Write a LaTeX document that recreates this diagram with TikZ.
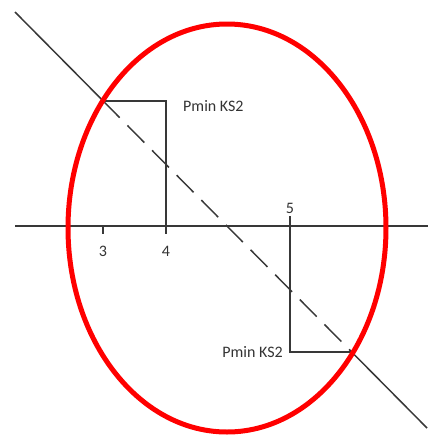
\documentclass[tikz,border=0pt]{standalone}
\usepackage{fontspec}
\setmainfont{Carlito}
\begin{document}
\begin{tikzpicture}[x=1pt,y=-1pt,
  ink/.style={draw=black!78,line width=1.5pt},
  dashpart/.style={ink,dash pattern=on 24pt off 11pt},
  lbl/.style={text=black!80,font=\fontsize{16}{18}\selectfont,inner sep=0pt},
  ring/.style={draw=red,line width=5pt}]
\useasboundingbox (0,0) rectangle (428,440);
% coordinates
\coordinate (dStart) at (15,12);
\coordinate (pA) at (102.8,100.6);
\coordinate (pB) at (352.7,353.0);
\coordinate (dEnd) at (427,428);
\coordinate (axL) at (15,226);
\coordinate (axR) at (428,226);
\coordinate (t3a) at (103,226);
\coordinate (t3b) at (103,234);
\coordinate (c4) at (166,101);
\coordinate (t4b) at (166,234);
\coordinate (t5a) at (290,216);
\coordinate (c5) at (290,352);
\coordinate (pB2) at (352,352);
% axis
\draw[ink] (axL) -- (axR);
% diagonal
\draw[ink] (dStart) -- (pA);
\draw[dashpart] (pA) -- (pB);
\draw[ink] (pB) -- (dEnd);
% brackets
\draw[ink] (pA |- c4) -- (c4) -- (t4b);
\draw[ink] (t5a) -- (c5) -- (pB2);
\draw[ink] (t3a) -- (t3b);
% labels
\node[lbl,anchor=base] (n3) at (103,256) {3};
\node[lbl,anchor=base] (n4) at (166,256) {4};
\node[lbl,anchor=base] (n5) at (290,213) {5};
\node[lbl,anchor=base west] (pu) at (183,111) {Pmin KS2};
\node[lbl,anchor=base east] (pl) at (283,357) {Pmin KS2};
% ellipse
\draw[ring] (227,228) ellipse [x radius=159, y radius=204];
\end{tikzpicture}
\end{document}
